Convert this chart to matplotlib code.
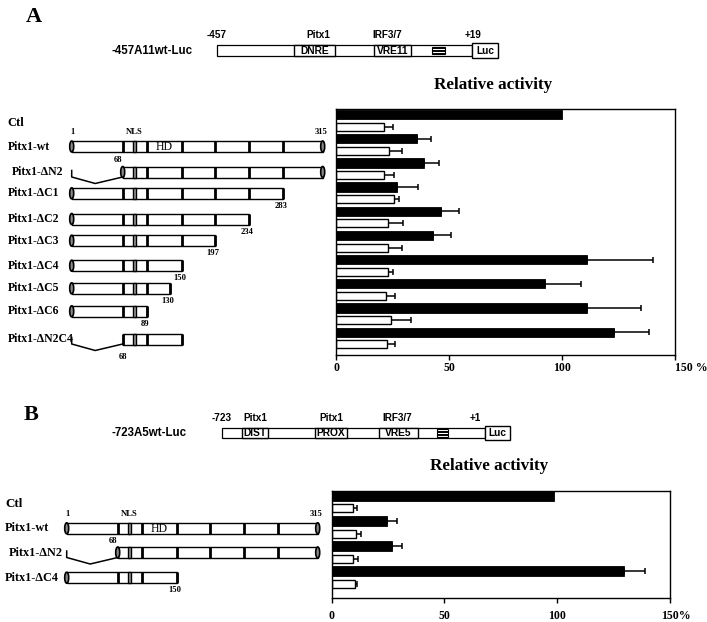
import numpy as np
import matplotlib
matplotlib.use('Agg')
import matplotlib.pyplot as plt
from matplotlib.patches import Rectangle, Ellipse

SERIF = 'Liberation Serif'
SANS = 'Liberation Sans'

# ---------------- data ----------------
constructs_A = ['Ctl', 'Pitx1-wt', 'Pitx1-ΔN2', 'Pitx1-ΔC1', 'Pitx1-ΔC2', 'Pitx1-ΔC3',
                'Pitx1-ΔC4', 'Pitx1-ΔC5', 'Pitx1-ΔC6', 'Pitx1-ΔN2C4']
black_A = [100, 35.7, 38.9, 26.8, 46.3, 43.1, 111.2, 92.5, 111.2, 123.0]
black_err_A = [0, 6.2, 6.5, 9.3, 8.0, 7.8, 28.9, 15.8, 23.9, 15.5]
white_A = [21.4, 23.6, 21.4, 25.8, 23.0, 23.2, 23.2, 22.0, 24.3, 22.4]
white_err_A = [4.0, 5.6, 4.1, 2.1, 6.8, 6.0, 2.2, 4.1, 9.0, 3.8]

constructs_B = ['Ctl', 'Pitx1-wt', 'Pitx1-ΔN2', 'Pitx1-ΔC4']
black_B = [98.5, 24.4, 26.7, 129.6]
black_err_B = [0, 4.4, 4.3, 9.2]
white_B = [9.3, 10.6, 9.6, 10.2]
white_err_B = [1.9, 2.4, 1.9, 1.0]

x_ticks = [0, 50, 100, 150]
tick_labels = ['0', '50', '100', '']
last_label_A = '150 %'
last_label_B = '150%'

# protein constructs (residue extents), same order as constructs without Ctl
starts_A = [1, 68, 1, 1, 1, 1, 1, 1, 68]
ends_A = [315, 315, 283, 234, 197, 150, 130, 89, 150]
starts_B = [1, 68, 1]
ends_B = [315, 315, 150]
domain_residues = [1, 68, 89, 150, 197, 234, 283, 315]
nls_residues = (77, 80)

promoter_A_name = '-457A11wt-Luc'
promoter_B_name = '-723A5wt-Luc'

# ---------------- layout ----------------
W, H, DPI = 707, 622, 100
fig = plt.figure(figsize=(W / DPI, H / DPI), dpi=DPI)
bg = fig.add_axes([0, 0, 1, 1])
bg.set_xlim(0, W)
bg.set_ylim(H, 0)
bg.axis('off')

SCHEM = [0, 51, 75, 110, 143.5, 177, 211, 251]


def res_x(r, x0):
    return x0 + np.interp(r, domain_residues, SCHEM)


def vline(ax, x, y, h, lw=2.0):
    ax.plot([x, x], [y - h / 2, y + h / 2], color='black', lw=lw,
            solid_capstyle='butt', zorder=4)


def draw_construct(ax, y, start, end, x0, h=11, round_left=True):
    xa, xb = res_x(start, x0), res_x(end, x0)
    ax.add_patch(Rectangle((xa, y - h / 2), xb - xa, h, fc='white', ec='black',
                           lw=1.0, zorder=2))
    if start < nls_residues[0] and end > nls_residues[1]:
        na, nb = res_x(nls_residues[0], x0), res_x(nls_residues[1], x0)
        ax.add_patch(Rectangle((na, y - h / 2), nb - na, h, fc='#9a9a9a',
                               ec='black', lw=1.0, zorder=3))
    for r in domain_residues:
        if start < r < end:
            vline(ax, res_x(r, x0), y, h)
    if round_left:
        ax.add_patch(Ellipse((xa, y), 4, h, fc='#8a8a8a', ec='black', lw=1.2, zorder=4))
    else:
        vline(ax, xa, y, h)
    if end == domain_residues[-1]:
        ax.add_patch(Ellipse((xb, y), 4, h, fc='#8a8a8a', ec='black', lw=1.2, zorder=4))
    else:
        vline(ax, xb, y, h)
    if start > 1:
        x1 = res_x(1, x0)
        xm = (x1 + xa) / 2 - 2
        ax.plot([x1, x1, xm, xa], [y - 1.5, y + 5, y + 11.5, y + 5],
                color='black', lw=1.1, zorder=2)


num_kw = dict(fontfamily=SERIF, fontweight='bold', fontsize=6.2, ha='center', va='center')
lab_kw = dict(fontfamily=SERIF, fontweight='bold', va='center', ha='left')


def draw_panel_constructs(ax, names, rows, starts, ends, x0, ctl_y, fs, label_x):
    ax.text(label_x, ctl_y, 'Ctl', fontsize=fs + 0.5, **lab_kw)
    for i, (nm, y, s, e) in enumerate(zip(names, rows, starts, ends)):
        lx = label_x + (4 if (s > 1 and e == 315) else 0)
        ax.text(lx, y, nm, fontsize=fs, **lab_kw)
        round_left = not (s > 1 and e < 315)
        draw_construct(ax, y, s, e, x0, round_left=round_left)
        if s == 1 and e == 315:
            ax.text(res_x(1, x0) + 1, y - 14.5, '1', **num_kw)
            ax.text(res_x(78.5, x0), y - 14.5, 'NLS', **num_kw)
            ax.text(res_x(315, x0) - 2, y - 14.5, '315', **num_kw)
            ax.text((res_x(89, x0) + res_x(150, x0)) / 2, y + 0.5, 'HD',
                    fontfamily=SERIF, fontsize=8.5, ha='center', va='center', zorder=5)
        elif s > 1 and e == 315:
            ax.text(res_x(s, x0) - 5, y - 11.5, str(s), **num_kw)
        elif s > 1:
            ax.text(res_x(s, x0), y + 18, str(s), **num_kw)
        if e < 315 and s == 1:
            ax.text(res_x(e, x0) - 2, y + 12.5, str(e), **num_kw)


rows_A = [146.5, 172, 193.3, 219, 240.7, 265.7, 288.3, 311.3, 339]
draw_panel_constructs(bg, constructs_A[1:], rows_A, starts_A, ends_A, 71.7, 123, 8.5, 7.5)
rows_B = [528.3, 552.5, 577.7]
draw_panel_constructs(bg, constructs_B[1:], rows_B, starts_B, ends_B, 66.7, 504, 8.8, 5)


# ---------------- promoters ----------------
def draw_promoter(ax, name, name_x, x0, x1, yc, luc_w, boxes, hatch_x, labels, lab_y):
    h = 10.5
    ax.add_patch(Rectangle((x0, yc - h / 2), x1 - x0, h, fc='white', ec='black', lw=0.9))
    ax.add_patch(Rectangle((x1, yc - 7.2), luc_w, 14.4, fc='white', ec='black', lw=1.0))
    ax.text(x1 + luc_w / 2, yc, 'Luc', fontfamily=SANS, fontweight='bold',
            fontsize=7.3, ha='center', va='center')
    for xa, xb, t in boxes:
        ax.add_patch(Rectangle((xa, yc - h / 2), xb - xa, h, fc='white', ec='black', lw=1.0))
        ax.text((xa + xb) / 2, yc, t, fontfamily=SANS, fontweight='bold',
                fontsize=7.4, ha='center', va='center')
    ha_, hb_ = hatch_x
    ax.add_patch(Rectangle((ha_, yc - 3.6), hb_ - ha_, 7.2, fc='white', ec='black', lw=0.8))
    for yy in np.linspace(yc - 3.6, yc + 3.6, 6)[1:-1]:
        ax.plot([ha_, hb_], [yy, yy], color='black', lw=0.7)
    for x, t in labels:
        ax.text(x, lab_y, t, fontfamily=SANS, fontweight='bold', fontsize=7.2,
                ha='center', va='center')
    ax.text(name_x, yc + 0.5, name, fontfamily=SANS, fontweight='bold', fontsize=8.3,
            ha='right', va='center')


draw_promoter(bg, promoter_A_name, 193, 216.7, 471.7, 50.5, 26.6,
              [(294, 335, 'DNRE'), (374.3, 410.7, 'VRE11')], (431.7, 445),
              [(217, '-457'), (318, 'Pitx1'), (387, 'IRF3/7'), (472.7, '+19')], 34.5)
draw_promoter(bg, promoter_B_name, 187, 221.7, 485, 433, 25,
              [(241.7, 268.3, 'DIST'), (315, 347.3, 'PROX'), (379.3, 417.7, 'VRE5')],
              (436.7, 448.3),
              [(221.7, '-723'), (255, 'Pitx1'), (331.7, 'Pitx1'), (397.3, 'IRF3/7'),
               (475, '+1')], 418)

bg.text(33.5, 17.5, 'A', fontfamily=SERIF, fontweight='bold', fontsize=16,
        ha='center', va='center')
bg.text(31.5, 415.5, 'B', fontfamily=SERIF, fontweight='bold', fontsize=16,
        ha='center', va='center')


# ---------------- bar charts ----------------
def fig_rect(l, t, r, b):
    return [l / W, 1 - b / H, (r - l) / W, (b - t) / H]


def bar_panel(rect, black, black_err, white, white_err, top_pad, bot_pad,
              hb, hw, pad, last_label, last_off, title_y):
    ax = fig.add_axes(fig_rect(*rect))
    n = len(black)
    pb = np.arange(n) * 2
    pw = pb + 1
    ax.barh(pb, black, height=hb, color='black', edgecolor='black', lw=0.6, zorder=2)
    ax.barh(pw, white, height=hw, color='white', edgecolor='black', lw=1.0, zorder=2)
    be = np.array(black_err)
    m = be > 0
    ax.errorbar(np.array(black)[m], pb[m], xerr=[np.zeros(m.sum()), be[m]], fmt='none',
                ecolor='black', elinewidth=1.1, capsize=2.4, capthick=1.1, zorder=1)
    ax.errorbar(white, pw, xerr=[np.zeros(n), white_err], fmt='none',
                ecolor='black', elinewidth=1.1, capsize=2.4, capthick=1.1, zorder=1)
    ax.set_xlim(0, 150)
    ax.set_ylim(2 * n - 1 + bot_pad, -top_pad)
    ax.set_yticks([])
    ax.set_xticks(x_ticks)
    ax.set_xticklabels(tick_labels, fontfamily=SERIF, fontweight='bold', fontsize=8.5)
    ax.tick_params(axis='x', direction='out', length=3.5, width=1.0, pad=pad)
    for s in ax.spines.values():
        s.set_linewidth(1.0)
    ax.annotate(last_label, xy=(150, 0), xycoords=('data', 'axes fraction'),
                xytext=(last_off, -(3.5 + pad)), textcoords='offset points',
                ha='left', va='top', fontfamily=SERIF, fontweight='bold', fontsize=8.5)
    cx = (rect[0] + rect[2]) / 2
    bg.text(cx - 12, title_y, 'Relative activity', fontfamily=SERIF, fontweight='bold',
            fontsize=12.3, ha='center', va='baseline')
    return ax


bar_panel((336, 109, 675, 355), black_A, black_err_A, white_A, white_err_A,
          0.455, 0.885, 0.77, 0.66, 1.5, last_label_A, 0, 89)
bar_panel((331.7, 490.7, 670, 598.3), black_B, black_err_B, white_B, white_err_B,
          0.4, 1.13, 0.79, 0.64, 5.0, last_label_B, -6.7, 470)

fig.savefig('out.png', dpi=DPI)
